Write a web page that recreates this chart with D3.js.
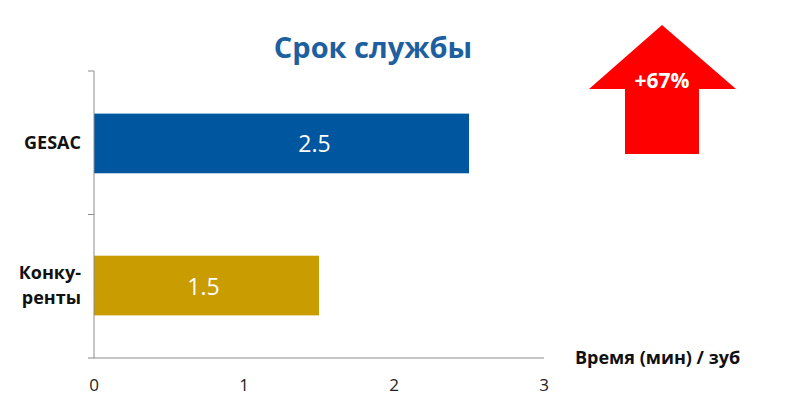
<!DOCTYPE html>
<html>
<head>
<meta charset="utf-8">
<script src="https://cdn.jsdelivr.net/npm/d3@7"></script>
<style>
  body { margin: 0; background: #fff; }
  svg { font-family: "Open Sans", "Noto Sans", sans-serif; }
</style>
</head>
<body>
<svg id="chart" width="786" height="414"></svg>
<script>
// chart data
var categories = ["GESAC", "Конку-ренты"];
var catLines = [["GESAC"], ["Конку-", "ренты"]];
var values = [2.5, 1.5];
var labelAt = [1.47, 0.73]; // where each value label sits, in axis units
var barColors = ["#01579f", "#c99c02"];
var xTicks = [0, 1, 2, 3];
var titleText = "Срок службы";
var axisTitle = "Время (мин) / зуб";
var changeLabel = "+67%";

var svg = d3.select("#chart");

var plotL = 94, plotR = 544, plotT = 71, plotB = 358;

var x = d3.scaleLinear().domain([0, 3]).range([plotL, plotR]);
var y = d3.scaleBand().domain(categories).range([plotT, plotB]).paddingInner(0.58).paddingOuter(0.3);

// title
svg.append("text")
   .attr("x", 373).attr("y", 58)
   .attr("text-anchor", "middle")
   .attr("font-size", 29).attr("font-weight", "bold")
   .attr("fill", "#1d5f9f")
   .text(titleText);

// bars
svg.selectAll("rect.bar")
   .data(values)
   .enter().append("rect")
   .attr("class", "bar")
   .attr("x", x(0))
   .attr("y", function(d, i) { return y(categories[i]); })
   .attr("width", function(d) { return x(d) - x(0); })
   .attr("height", y.bandwidth())
   .attr("fill", function(d, i) { return barColors[i]; });

// value labels
svg.selectAll("text.val")
   .data(values)
   .enter().append("text")
   .attr("class", "val")
   .attr("x", function(d, i) { return x(labelAt[i]); })
   .attr("y", function(d, i) { return y(categories[i]) + y.bandwidth() / 2 + 9; })
   .attr("text-anchor", "middle")
   .attr("font-size", 23)
   .attr("fill", "#fff")
   .text(function(d) { return d; });

// y axis line + ticks between categories
var axisColor = "#8c8c8c";
svg.append("line")
   .attr("x1", plotL).attr("x2", plotL).attr("y1", plotT).attr("y2", plotB)
   .attr("stroke", axisColor).attr("stroke-width", 1);
var yTickPos = [plotT, (plotT + plotB) / 2, plotB];
svg.selectAll("line.ytick")
   .data(yTickPos)
   .enter().append("line")
   .attr("x1", plotL - 6).attr("x2", plotL)
   .attr("y1", function(d) { return d; }).attr("y2", function(d) { return d; })
   .attr("stroke", axisColor);

// x axis line
svg.append("line")
   .attr("x1", plotL).attr("x2", plotR).attr("y1", plotB).attr("y2", plotB)
   .attr("stroke", axisColor).attr("stroke-width", 1);

svg.selectAll("text.xtick")
   .data(xTicks)
   .enter().append("text")
   .attr("class", "xtick")
   .attr("x", function(d) { return x(d); })
   .attr("y", 391)
   .attr("text-anchor", "middle")
   .attr("font-size", 17)
   .attr("fill", "#222")
   .text(function(d) { return d; });

// category labels
catLines.forEach(function(lines, i) {
    var cy = y(categories[i]) + y.bandwidth() / 2;
    var lh = 25;
    var t = svg.append("text")
               .attr("text-anchor", "end")
               .attr("font-size", 18).attr("font-weight", "bold")
               .attr("fill", "#111");
    lines.forEach(function(s, j) {
        t.append("tspan")
         .attr("x", 81)
         .attr("y", cy + 6 + (j - (lines.length - 1) / 2) * lh)
         .text(s);
    });
});

// axis title
svg.append("text")
   .attr("x", 575).attr("y", 364)
   .attr("font-size", 18).attr("font-weight", "bold")
   .attr("fill", "#111")
   .text(axisTitle);

// red arrow
var arrow = d3.path();
arrow.moveTo(662, 25);
arrow.lineTo(736, 89);
arrow.lineTo(699, 89);
arrow.lineTo(699, 154);
arrow.lineTo(625, 154);
arrow.lineTo(625, 89);
arrow.lineTo(589, 89);
arrow.closePath();
svg.append("path").attr("d", arrow.toString()).attr("fill", "#ff0000");

svg.append("text")
   .attr("x", 662).attr("y", 88)
   .attr("text-anchor", "middle")
   .attr("font-size", 21).attr("font-weight", "bold")
   .attr("fill", "#fff")
   .text(changeLabel);
</script>
</body>
</html>
